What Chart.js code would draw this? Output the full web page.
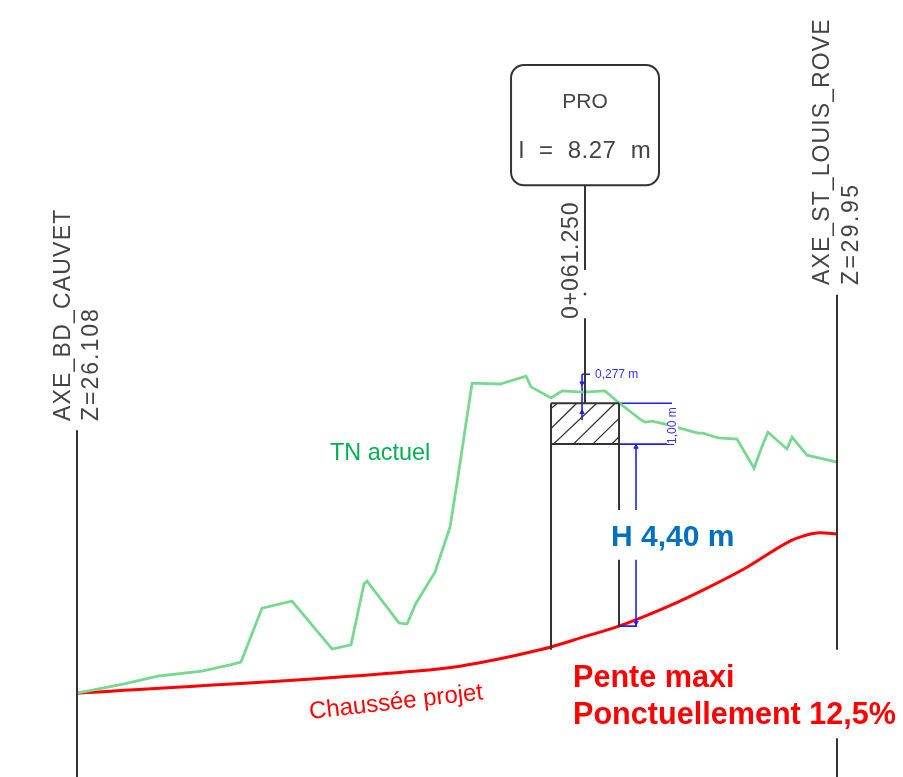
<!DOCTYPE html>
<html>
<head>
<meta charset="utf-8">
<title>Profil en long</title>
<script src="https://cdn.jsdelivr.net/npm/chart.js@4"></script>
<style>
html, body { margin: 0; padding: 0; background: #fff; }
canvas { display: block; }
</style>
</head>
<body>
<canvas id="profil" width="903" height="777"></canvas>
<script>
// profile values, x = chainage in m, z = level in m
var tnX = [0, 5.55, 9.89, 15.07, 18.45, 19.77, 22.31, 25.92, 30.75, 33.04, 34.60, 34.97, 38.82, 39.79, 40.87, 43.16, 44.97, 45.82, 47.63, 51.00, 54.14, 54.74, 57.15, 58.48, 61.01, 63.66, 65.23, 67.88, 68.48, 69.33, 70.90, 74.87, 75.48, 77.29, 79.58, 81.63, 82.47, 83.31, 85.60, 86.21, 88.02, 91.63];
var tnZ = [26.08, 26.30, 26.50, 26.62, 26.77, 26.84, 28.16, 28.33, 27.16, 27.26, 28.75, 28.82, 27.80, 27.77, 28.28, 29.04, 30.14, 31.22, 33.66, 33.64, 33.83, 33.57, 33.30, 33.47, 33.44, 33.47, 33.20, 32.78, 32.71, 32.73, 32.66, 32.44, 32.44, 32.32, 32.29, 31.58, 32.05, 32.46, 32.05, 32.34, 31.90, 31.73];

var roadX = [0, 40.99, 46.18, 51.00, 55.82, 57.15, 61.01, 65.35, 71.14, 75.96, 80.78, 85.97, 87.53, 89.58, 91.63];
var roadZ = [26.08, 26.62, 26.74, 26.92, 27.14, 27.21, 27.45, 27.72, 28.19, 28.65, 29.16, 29.80, 29.92, 30.00, 29.97];

// station lines, null = break in the line
var axisX = [0, 0, null, 91.63, 91.63, null, 91.63, 91.63, null, 57.15, 57.15, null, 65.35, 65.35, null, 65.35, 65.35, null, 61.25, 61.25, null, 61.25, 61.25];
var axisZ = [32.51, 24.03, null, 35.82, 27.14, null, 24.98, 24.03, null, 33.17, 27.14, null, 33.17, 30.56, null, 29.34, 27.72, null, 38.48, 36.43, null, 35.25, 33.17];

// trench 1 m under the ground
var trenchX = [57.15, 65.35, null, 57.15, 65.35];
var trenchZ = [33.17, 33.17, null, 32.17, 32.17];
var hatchX = [57.15, 57.91, null, 57.15, 60.25, null, 57.43, 62.66, null, 59.84, 64.87, null, 62.18, 65.35, null, 64.47, 65.35];
var hatchZ = [33.04, 33.17, null, 32.55, 33.17, null, 32.17, 33.17, null, 32.17, 33.17, null, 32.17, 32.80, null, 32.17, 32.35];

// blue dimensions
var dimX = [65.35, 71.74, null, 65.35, 71.98, null, 67.40, 67.40, null, 67.40, 67.40, null, 65.35, 67.52, null, 60.89, 60.89, null, 60.89, 61.85];
var dimZ = [33.17, 33.17, null, 32.17, 32.17, null, 32.17, 30.56, null, 29.34, 27.72, null, 27.72, 27.72, null, 33.88, 32.76, null, 33.88, 33.88];
var arrowX = [67.40, 67.40, 60.89, 60.89];
var arrowZ = [32.10, 27.80, 33.66, 32.95];

var dotX = [61.25];
var dotZ = [35.84];

// PRO callout corners
var calloutX = [52.33, 70.17];
var calloutZ = [41.44, 38.50];

var cadFont = '23px "Liberation Sans"';
var labels = [
	{ t: 'AXE_BD_CAUVET', x: 70, y: 421, rot: -90, font: cadFont, c: '#444', sp: '1.2px' },
	{ t: 'Z=26.108', x: 98, y: 421, rot: -90, font: cadFont, c: '#444', sp: '2px' },
	{ t: 'AXE_ST_LOUIS_ROVE', x: 829, y: 285, rot: -90, font: cadFont, c: '#444', sp: '1.1px' },
	{ t: 'Z=29.95', x: 858, y: 285, rot: -90, font: cadFont, c: '#444', sp: '2.5px' },
	{ t: '0+061.250', x: 578, y: 319, rot: -90, font: cadFont, c: '#444', sp: '0.9px' },
	{ t: 'PRO', x: 585, y: 108, align: 'center', font: '21px "Liberation Sans"', c: '#444' },
	{ t: 'l  =  8.27  m', x: 585, y: 158, align: 'center', font: '24px "Liberation Sans"', c: '#444', sp: '0.5px' },
	{ t: 'TN actuel', x: 330, y: 460, font: '23.4px "Liberation Sans"', c: '#00B050' },
	{ t: 'Chaussée projet', x: 310, y: 719, rot: -6.5, font: '24px "Liberation Sans"', c: '#FF0000' },
	{ t: 'H 4,40 m', x: 611, y: 546, font: 'bold 30px "Liberation Sans"', c: '#0070C0' },
	{ t: 'Pente maxi', x: 573, y: 687, font: 'bold 30.6px "Liberation Sans"', c: '#FF0000' },
	{ t: 'Ponctuellement 12,5%', x: 573, y: 724, font: 'bold 30.6px "Liberation Sans"', c: '#FF0000' },
	{ t: '0,277 m', x: 595, y: 378, font: '12px "Liberation Sans"', c: '#3333FF' },
	{ t: '1,00 m', x: 676, y: 444, rot: -90, font: '12px "Liberation Sans"', c: '#3333FF', halo: true }
];

function toPoints(xs, zs) {
	return xs.map(function (x, i) {
		return { x: x === null ? NaN : x, y: zs[i] };
	});
}

function lineSet(xs, zs, color, width) {
	return {
		data: toPoints(xs, zs),
		showLine: true,
		borderColor: color,
		borderWidth: width,
		pointRadius: 0,
		spanGaps: false
	};
}

var annotations = {
	id: 'annotations',
	afterDatasetsDraw: function (chart) {
		var ctx = chart.ctx;
		var sx = chart.scales.x, sy = chart.scales.y;

		// PRO callout
		var left = sx.getPixelForValue(calloutX[0]), right = sx.getPixelForValue(calloutX[1]);
		var top = sy.getPixelForValue(calloutZ[0]), bottom = sy.getPixelForValue(calloutZ[1]);
		ctx.save();
		ctx.strokeStyle = '#333';
		ctx.lineWidth = 2;
		ctx.beginPath();
		ctx.roundRect(left, top, right - left, bottom - top, 13);
		ctx.stroke();
		ctx.restore();

		labels.forEach(function (l) {
			ctx.save();
			ctx.translate(l.x, l.y);
			ctx.rotate((l.rot || 0) * Math.PI / 180);
			ctx.font = l.font;
			ctx.letterSpacing = l.sp || '0px';
			ctx.textAlign = l.align || 'left';
			ctx.textBaseline = 'alphabetic';
			if (l.halo) {
				ctx.fillStyle = '#fff';
				ctx.fillRect(0, -9, ctx.measureText(l.t).width, 11);
			}
			ctx.fillStyle = l.c;
			ctx.fillText(l.t, 0, 0);
			ctx.restore();
		});
	}
};

new Chart(document.getElementById('profil'), {
	type: 'scatter',
	data: {
		datasets: [
			lineSet(hatchX, hatchZ, '#333', 1.3),
			lineSet(axisX, axisZ, '#333', 2),
			lineSet(trenchX, trenchZ, '#333', 2),
			lineSet(tnX, tnZ, '#78D890', 2.8),
			lineSet(dimX, dimZ, '#2020F0', 1.6),
			Object.assign(lineSet(roadX, roadZ, '#FF0000', 3), { cubicInterpolationMode: 'monotone' }),
			{
				data: toPoints(arrowX, arrowZ),
				pointStyle: 'triangle',
				pointRadius: 2.5,
				pointRotation: [0, 180, 180, 0],
				backgroundColor: '#2020F0',
				borderColor: '#2020F0',
				showLine: false
			},
			{
				data: toPoints(dotX, dotZ),
				pointRadius: 1,
				backgroundColor: '#333',
				borderColor: '#333',
				showLine: false
			}
		]
	},
	options: {
		responsive: false,
		animation: false,
		layout: { padding: 0, autoPadding: false },
		plugins: { legend: { display: false }, tooltip: { enabled: false } },
		scales: {
			x: { type: 'linear', display: false, min: -9.284, max: 99.588 },
			y: { type: 'linear', display: false, min: 24.03, max: 43.03 }
		}
	},
	plugins: [annotations]
});
</script>
</body>
</html>
